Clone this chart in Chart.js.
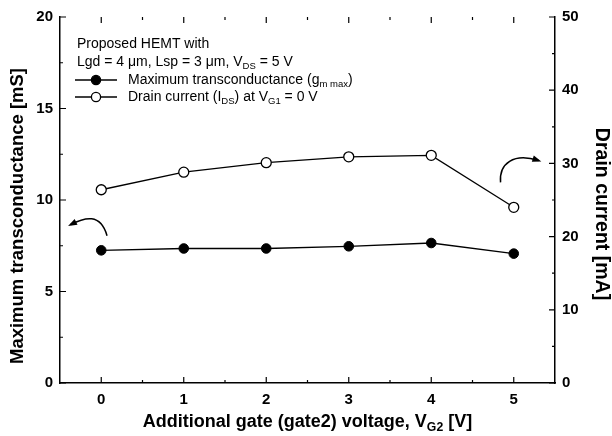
<!DOCTYPE html>
<html>
<head>
<meta charset="utf-8">
<script src="https://cdn.jsdelivr.net/npm/chart.js@4"></script>
<style>
  html, body { margin: 0; padding: 0; background: #fff; }
  #wrap { width: 612px; height: 436px; }
</style>
</head>
<body>
<div id="wrap"><canvas id="hemt" width="612" height="436"></canvas></div>
<script>
// gate2 voltage sweep
const gate2Voltage = [0, 1, 2, 3, 4, 5];
const gmMax = [7.25, 7.35, 7.35, 7.47, 7.65, 7.07];          // mS
const drainCurrent = [26.4, 28.8, 30.1, 30.9, 31.1, 24.0];    // mA
const xTicks = [0, 1, 2, 3, 4, 5];
const gmTicks = [0, 5, 10, 15, 20];
const idTicks = [0, 10, 20, 30, 40, 50];

const FONT = "'Liberation Sans', Arial, sans-serif";

// draw text with subscripts: parts = [[text, isSub], ...]
function drawRich(ctx, parts, x, y, size, bold) {
  let cx = x;
  parts.forEach(([t, sub]) => {
    const s = sub ? size * 0.68 : size;
    ctx.font = (bold ? "bold " : "") + s + "px " + FONT;
    ctx.fillText(t, cx, sub ? y + size * 0.3 : y);
    cx += ctx.measureText(t).width;
  });
  return cx;
}
function richWidth(ctx, parts, size, bold) {
  let w = 0;
  parts.forEach(([t, sub]) => {
    ctx.font = (bold ? "bold " : "") + (sub ? size * 0.68 : size) + "px " + FONT;
    w += ctx.measureText(t).width;
  });
  return w;
}

const decorPlugin = {
  id: "decor",
  afterDraw(chart) {
    const ctx = chart.ctx;
    const a = chart.chartArea;
    const x = chart.scales.x, y = chart.scales.y, y2 = chart.scales.y2;
    ctx.save();
    ctx.strokeStyle = "#000";
    ctx.fillStyle = "#000";
    ctx.lineWidth = 1.2;

    // inward ticks
    ctx.beginPath();
    for (let v = -0.5; v <= 5.5; v += 0.5) {
      const px = x.getPixelForValue(v);
      if (px <= a.left + 1 || px >= a.right - 1) continue;
      const len = Number.isInteger(v) ? 6 : 3;
      ctx.moveTo(px, a.bottom); ctx.lineTo(px, a.bottom - len);
      ctx.moveTo(px, a.top); ctx.lineTo(px, a.top + len);
    }
    for (let v = 0; v <= 20; v += 2.5) {
      const py = y.getPixelForValue(v);
      const len = v % 5 === 0 ? 6 : 3;
      ctx.moveTo(a.left, py); ctx.lineTo(a.left + len, py);
    }
    for (let v = 0; v <= 50; v += 5) {
      const py = y2.getPixelForValue(v);
      const len = v % 10 === 0 ? 6 : 3;
      ctx.moveTo(a.right, py); ctx.lineTo(a.right - len, py);
    }
    ctx.stroke();

    // curved arrows pointing to each axis
    const arrow = (pts) => {
      const p = pts.map(([vx, vy]) => [x.getPixelForValue(vx), y.getPixelForValue(vy)]);
      ctx.beginPath();
      ctx.moveTo(p[0][0], p[0][1]);
      ctx.bezierCurveTo(p[1][0], p[1][1], p[2][0], p[2][1], p[3][0], p[3][1]);
      ctx.lineWidth = 1.5;
      ctx.stroke();
      const [ex, ey] = p[3];
      const ang = Math.atan2(ey - p[2][1], ex - p[2][0]);
      ctx.beginPath();
      ctx.moveTo(ex + 3 * Math.cos(ang), ey + 3 * Math.sin(ang));
      ctx.lineTo(ex - 6 * Math.cos(ang) + 3.2 * Math.sin(ang), ey - 6 * Math.sin(ang) - 3.2 * Math.cos(ang));
      ctx.lineTo(ex - 6 * Math.cos(ang) - 3.2 * Math.sin(ang), ey - 6 * Math.sin(ang) + 3.2 * Math.cos(ang));
      ctx.closePath();
      ctx.fill();
    };
    arrow([[0.07, 8.05], [-0.01, 9.3], [-0.2, 9.05], [-0.37, 8.66]]);
    arrow([[4.84, 10.96], [4.82, 12.0], [5.0, 12.6], [5.30, 12.16]]);

    // legend block
    ctx.textBaseline = "middle";
    ctx.textAlign = "left";
    const lx = a.left + 17;
    drawRich(ctx, [["Proposed HEMT with", false]], lx, 44, 14, false);
    drawRich(ctx, [["Lgd = 4 \u03bcm, Lsp = 3 \u03bcm, V", false], ["DS", true], [" = 5 V", false]], lx, 62, 14, false);

    const sample = (yy, filled) => {
      ctx.beginPath();
      ctx.lineWidth = 1.3;
      ctx.moveTo(lx - 2, yy); ctx.lineTo(lx + 40, yy);
      ctx.stroke();
      ctx.beginPath();
      ctx.arc(lx + 19, yy, 4.6, 0, Math.PI * 2);
      ctx.fillStyle = filled ? "#000" : "#fff";
      ctx.fill();
      ctx.stroke();
      ctx.fillStyle = "#000";
    };
    sample(80, true);
    drawRich(ctx, [["Maximum transconductance (g", false], ["m max", true], [")", false]], lx + 51, 80, 14, false);
    sample(97, false);
    drawRich(ctx, [["Drain current (I", false], ["DS", true], [") at V", false], ["G1", true], [" = 0 V", false]], lx + 51, 97, 14, false);

    // axis titles
    const xt = [["Additional gate (gate2) voltage, V", false], ["G2", true], [" [V]", false]];
    const w = richWidth(ctx, xt, 18, true);
    drawRich(ctx, xt, (a.left + a.right) / 2 - w / 2, 422, 18, true);

    ctx.textAlign = "center";
    ctx.save();
    ctx.translate(18, 216);
    ctx.rotate(-Math.PI / 2);
    ctx.font = "bold 18.5px " + FONT;
    ctx.fillText("Maximum transconductance [mS]", 0, 0);
    ctx.restore();

    ctx.save();
    ctx.translate(601, 214);
    ctx.rotate(Math.PI / 2);
    ctx.font = "bold 19.5px " + FONT;
    ctx.fillText("Drain current [mA]", 0, 0);
    ctx.restore();

    ctx.restore();
  }
};

new Chart(document.getElementById("hemt"), {
  type: "line",
  data: {
    datasets: [
      {
        label: "Maximum transconductance",
        data: gate2Voltage.map((v, i) => ({ x: v, y: gmMax[i] })),
        yAxisID: "y",
        borderColor: "#000",
        borderWidth: 1.3,
        pointRadius: 4.8,
        pointBackgroundColor: "#000",
        pointBorderColor: "#000",
        pointBorderWidth: 1,
        tension: 0
      },
      {
        label: "Drain current",
        data: gate2Voltage.map((v, i) => ({ x: v, y: drainCurrent[i] })),
        yAxisID: "y2",
        borderColor: "#000",
        borderWidth: 1.3,
        pointRadius: 5,
        pointBackgroundColor: "#fff",
        pointBorderColor: "#000",
        pointBorderWidth: 1.3,
        tension: 0
      }
    ]
  },
  options: {
    responsive: false,
    animation: false,
    layout: { padding: { top: 17, left: 0, right: 0, bottom: 0 } },
    plugins: { legend: { display: false }, tooltip: { enabled: false } },
    scales: {
      x: {
        type: "linear",
        min: -0.5, max: 5.5,
        afterBuildTicks: s => { s.ticks = xTicks.map(v => ({ value: v })); },
        afterFit: s => { s.height = 53; },
        grid: { display: false, drawTicks: false },
        border: { display: true, color: "#000", width: 1.5 },
        ticks: { color: "#000", font: { family: FONT, size: 15, weight: "bold" }, padding: 8, maxRotation: 0 }
      },
      y: {
        position: "left",
        min: 0, max: 20,
        afterBuildTicks: s => { s.ticks = gmTicks.map(v => ({ value: v })); },
        afterFit: s => { s.width = 60; },
        grid: { display: false, drawTicks: false },
        border: { display: true, color: "#000", width: 1.5 },
        ticks: { color: "#000", font: { family: FONT, size: 15, weight: "bold" }, padding: 7 }
      },
      y2: {
        position: "right",
        min: 0, max: 50,
        afterBuildTicks: s => { s.ticks = idTicks.map(v => ({ value: v })); },
        afterFit: s => { s.width = 57; },
        grid: { display: false, drawTicks: false },
        border: { display: true, color: "#000", width: 1.5 },
        ticks: { color: "#000", font: { family: FONT, size: 15, weight: "bold" }, padding: 7 }
      }
    }
  },
  plugins: [decorPlugin]
});
</script>
</body>
</html>
